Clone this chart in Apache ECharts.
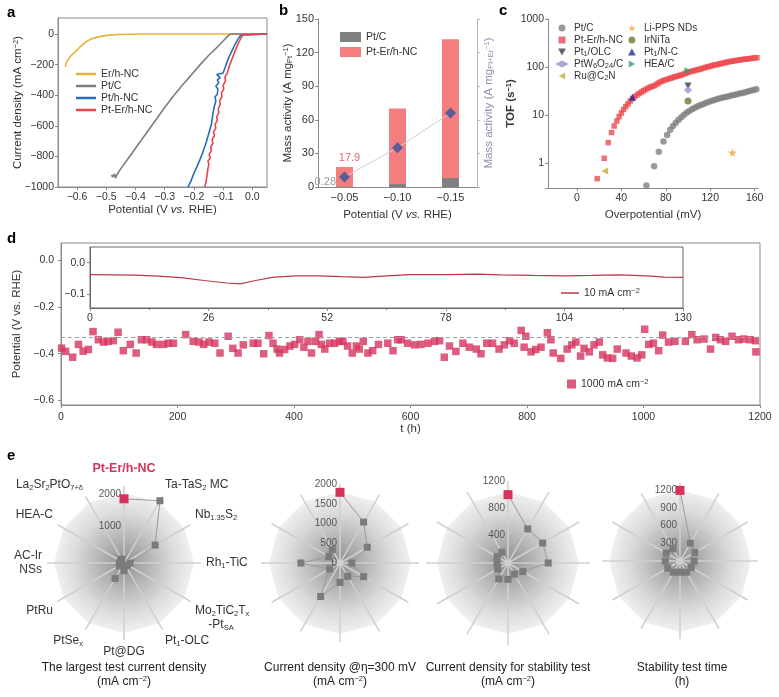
<!DOCTYPE html>
<html><head><meta charset="utf-8">
<script src="https://cdn.jsdelivr.net/npm/echarts@6/dist/echarts.min.js"></script>
<style>html,body{margin:0;padding:0;background:#fff}#c{width:779px;height:697px}</style>
</head><body><div id="c"></div><script>
// ================= DATA =================
// panel a : LSV curves [potential V, current density mA cm-2]
const aTicksX = [-0.6,-0.5,-0.4,-0.3,-0.2,-0.1,0];
const aTicksY = [0,-200,-400,-600,-800,-1000];
const aErCurve = [[-0.64,-215],[-0.637,-190],[-0.633,-200],[-0.63,-165],[-0.625,-175],[-0.62,-140],[-0.615,-150],[-0.61,-125],[-0.6,-105],[-0.59,-85],[-0.58,-68],[-0.57,-52],[-0.56,-40],[-0.55,-31],[-0.53,-20],[-0.51,-12],[-0.49,-7],[-0.46,-3],[-0.42,-1],[-0.38,0],[-0.2,0],[0.05,0]];
const aPtCCurve = [[-0.482,-921],[-0.478,-935],[-0.472,-915],[-0.468,-943],[-0.465,-925],[-0.45,-880],[-0.42,-800],[-0.39,-720],[-0.36,-640],[-0.33,-560],[-0.30,-480],[-0.27,-405],[-0.24,-335],[-0.21,-270],[-0.18,-203],[-0.15,-140],[-0.12,-85],[-0.10,-45],[-0.085,-15],[-0.076,0],[0.05,0]];
const aPtHCurve = [[-0.22,-1000],[-0.21,-960],[-0.20,-910],[-0.19,-868],[-0.18,-824],[-0.17,-775],[-0.16,-720],[-0.15,-655],[-0.14,-590],[-0.135,-520],[-0.13,-470],[-0.125,-440],[-0.128,-410],[-0.12,-395],[-0.118,-360],[-0.125,-340],[-0.115,-320],[-0.12,-300],[-0.11,-285],[-0.122,-265],[-0.1,-255],[-0.09,-200],[-0.08,-150],[-0.07,-110],[-0.06,-70],[-0.05,-35],[-0.04,-8],[-0.035,0],[0.05,0]];
const aPtErCurve = [[-0.163,-1000],[-0.158,-960],[-0.155,-920],[-0.152,-880],[-0.149,-850],[-0.152,-830],[-0.144,-810],[-0.148,-790],[-0.14,-760],[-0.143,-740],[-0.135,-715],[-0.138,-690],[-0.13,-665],[-0.133,-640],[-0.125,-615],[-0.128,-590],[-0.12,-565],[-0.122,-540],[-0.115,-515],[-0.117,-490],[-0.11,-460],[-0.112,-435],[-0.104,-410],[-0.106,-385],[-0.098,-360],[-0.1,-335],[-0.092,-305],[-0.094,-280],[-0.086,-255],[-0.08,-215],[-0.072,-175],[-0.064,-135],[-0.056,-95],[-0.048,-60],[-0.04,-28],[-0.033,-5],[-0.03,0],[0.05,0]];

// panel b : mass activity
const bCategories = ['−0.05','−0.10','−0.15'];
const bPtC = [0.28, 2.5, 8];
const bPtEr = [17.9, 70, 132];
const bPtErNorm = [9, 35, 66];

// panel c : TOF [overpotential mV, TOF s-1]
const cTicksX = [0,40,80,120,160];
const cPtC = [[62.6,0.34],[69.5,0.85],[73.7,1.7],[77.9,2.8],[81.2,3.8],[84,4.9],[86.5,5.9],[89,6.9],[91.5,7.9],[94,9],[96.5,10.1],[99,11.2],[101.5,12.3],[104,13.3],[106.5,14.3],[109,15.2],[111.5,16.1],[114,17],[116.5,17.9],[119,18.8],[121.5,19.7],[124,20.6],[126.5,21.4],[129,22.2],[131.5,23],[134,23.8],[136.5,24.6],[139,25.4],[141.5,26.2],[144,27],[146.5,27.9],[149,28.8],[151.5,29.8],[154,30.8],[156.5,31.9],[159,33],[161.5,34.3]];
const cPtEr = [[18.3,0.47],[24.6,1.25],[28.2,2.65],[31.2,4.3],[33.6,5.9],[36,7.5],[38,9.2],[40,11],[42,13],[44,15],[46,17],[48,19.5],[50,22],[52,24],[54,26],[56,28],[58,30],[60,32],[62,34],[64,36],[66,38],[68,39.5],[70,41],[72,44],[74,47],[76,50],[78,52],[80,54],[82,56],[84,58],[86,60],[88,62],[90,64],[92,66],[94,68],[96,71],[98,74],[100,77],[102,80],[104,82],[106,84],[108,87],[110,89],[112,92],[114,95],[116,98],[118,101],[120,104],[122,107],[124,110],[126,112],[128,115],[130,118],[132,121],[134,124],[136,127],[138,130],[140,132],[142,135],[144,137],[146,140],[148,142],[150,144],[152,146],[154,148],[156,150],[158,152],[160,154],[162,156]];
const cPt1OLC = [[100,40]];
const cPtW6O24 = [[100,33]];
const cRuC2N = [[25,0.68]];
const cLiPPS = [[140,1.64]];
const cIrNiTa = [[100,19.5]];
const cPt1NC = [[50,23.4]];
const cHEAC = [[100,83]];

// panel d : stability [t h, potential V]
const dTicksY = [0,-0.2,-0.4,-0.6];
const d1000 = [[1,-0.376],[8,-0.39],[20,-0.415],[30,-0.36],[38,-0.389],[47,-0.382],[55,-0.305],[64,-0.34],[73,-0.35],[81,-0.347],[90,-0.344],[98,-0.308],[107,-0.387],[119,-0.36],[129,-0.397],[138,-0.34],[147,-0.34],[156,-0.35],[164,-0.36],[176,-0.36],[184,-0.355],[193,-0.355],[214,-0.318],[227,-0.347],[237,-0.35],[245,-0.36],[254,-0.35],[264,-0.355],[273,-0.397],[287,-0.325],[295,-0.377],[304,-0.397],[313,-0.362],[330,-0.355],[338,-0.355],[348,-0.4],[357,-0.322],[364,-0.355],[371,-0.38],[375,-0.397],[384,-0.382],[393,-0.367],[401,-0.36],[410,-0.34],[417,-0.372],[424,-0.347],[430,-0.397],[437,-0.347],[443,-0.318],[447,-0.36],[453,-0.38],[461,-0.355],[470,-0.355],[478,-0.347],[484,-0.347],[492,-0.367],[500,-0.397],[507,-0.367],[512,-0.38],[519,-0.347],[527,-0.397],[535,-0.387],[545,-0.36],[561,-0.355],[570,-0.387],[578,-0.34],[584,-0.34],[595,-0.355],[607,-0.362],[618,-0.36],[630,-0.355],[641,-0.347],[650,-0.344],[658,-0.415],[667,-0.367],[678,-0.39],[690,-0.355],[701,-0.372],[713,-0.38],[721,-0.4],[731,-0.355],[741,-0.355],[752,-0.38],[761,-0.362],[770,-0.344],[778,-0.355],[790,-0.3],[795,-0.372],[798,-0.325],[807,-0.392],[815,-0.382],[824,-0.372],[835,-0.31],[841,-0.34],[845,-0.397],[858,-0.42],[869,-0.38],[877,-0.362],[884,-0.35],[892,-0.41],[898,-0.377],[907,-0.392],[915,-0.362],[924,-0.35],[930,-0.405],[938,-0.418],[947,-0.42],[955,-0.38],[970,-0.397],[979,-0.41],[989,-0.418],[997,-0.405],[1002,-0.295],[1009,-0.36],[1017,-0.355],[1026,-0.387],[1033,-0.32],[1043,-0.35],[1054,-0.347],[1072,-0.347],[1083,-0.318],[1092,-0.34],[1104,-0.337],[1115,-0.38],[1124,-0.33],[1132,-0.34],[1141,-0.347],[1152,-0.325],[1163,-0.34],[1172,-0.337],[1183,-0.34],[1192,-0.344],[1193,-0.392]];
const dRefLevel = -0.33;
const insetTicksY = [0,-0.1];
const inset10 = [[0,-0.038],[5,-0.039],[10,-0.040],[15,-0.043],[20,-0.048],[25,-0.057],[30,-0.065],[33,-0.068],[36,-0.058],[40,-0.047],[45,-0.042],[50,-0.042],[55,-0.045],[60,-0.047],[65,-0.042],[70,-0.038],[78,-0.038],[85,-0.037],[90,-0.039],[97,-0.041],[104,-0.042],[110,-0.041],[116,-0.039],[122,-0.042],[126,-0.046],[130,-0.047]];

// panel e : radar comparisons (order of indicators, clockwise from top)
const eNames = ['Pt-Er/h-NC','Ta-TaS2 MC','Nb1.35S2','Rh1-TiC','Mo2TiC2Tx-PtSA','Pt1-OLC','Pt@DG','PtSex','PtRu','AC-Ir NSs','HEA-C','La2Sr2PtO7+δ'];
const eLargest     = [2000, 2240, 1120, 190, 125, 100, 240, 556, 170, 140, 125, 140];
const eAt300       = [1790, 1197, 797, 297, 690, 391, 492, 980, 305, 990, 325, 390];
const eStabCurrent = [1000, 577, 585, 588, 250, 188, 240, 270, 174, 162, 184, 182];
const eStabTime    = [1200, 350, 290, 240, 220, 220, 190, 220, 240, 250, 270, 240];
const eTicks1 = [1000,2000];
const eTicks2 = [0,500,1000,1500,2000];
const eTicks3 = [400,800,1200];
const eTicks4 = [300,600,900,1200];

// ================= CHART =================
const FONT = 'Liberation Sans, Arial, Helvetica, sans-serif';
const AX = '#8a8a8a', TXT = '#333';
const RICH = {
  s:{fontSize:7.5, lineHeight:8, verticalAlign:'bottom', fontFamily:FONT},
  p:{fontSize:7.5, lineHeight:8, verticalAlign:'top', fontFamily:FONT},
  i:{fontStyle:'italic', fontFamily:FONT},
  hl:{color:'#d6335c', fontWeight:'bold', fontSize:12.5, padding:[0,0,10,0], fontFamily:FONT}
};
const minus = s => String(s).replace('-', '−');
const fmt = d => v => minus(v.toFixed(d));
const plain = v => minus(String(v));

// marker shapes (paths)
const SQ = 'path://M0,0 L10,0 L10,10 L0,10 Z';
const TRI_DOWN = 'path://M0,0 L10,0 L5,9 Z';
const TRI_UP = 'path://M5,0 L10,9 L0,9 Z';
const TRI_LEFT = 'path://M9,0 L9,10 L0,5 Z';
const TRI_RIGHT = 'path://M0,0 L0,10 L9,5 Z';
const STAR = 'path://M50,0 L61,35 L98,35 L68,57 L79,91 L50,70 L21,91 L32,57 L2,35 L39,35 Z';

function vAxis(o){
  return Object.assign({
    type:'value', nameLocation:'middle', nameMoveOverlap:false,
    axisLine:{show:true, onZero:false, lineStyle:{color:AX, width:1}},
    axisTick:{show:true, length:3, lineStyle:{color:AX}},
    axisLabel:{color:TXT, fontSize:10.5, margin:4, fontFamily:FONT, formatter:plain},
    splitLine:{show:false},
    nameTextStyle:{fontSize:11.5, color:TXT, fontFamily:FONT, rich:RICH}
  }, o);
}
function deepAxis(base, extra){
  const a = vAxis(base);
  for (const k in extra){ a[k] = Object.assign({}, a[k]||{}, extra[k]); }
  return a;
}

const grids = [
  {left:58, top:18, width:209, height:169, show:true, borderColor:AX, borderWidth:1, backgroundColor:'transparent'}, // a
  {left:318, top:19, width:159, height:168}, // b
  {left:548, top:19, width:210, height:169}, // c
  {left:61, top:243, width:699, height:162, show:true, borderColor:AX, borderWidth:1, backgroundColor:'transparent'}, // d
  {left:90, top:247, width:593, height:61, show:true, borderColor:'#666', borderWidth:1, backgroundColor:'#fff', z:5} // inset
].map(g => Object.assign({outerBoundsMode:'none', containLabel:false}, g));

const xAxes = [
  deepAxis({gridIndex:0, min:-0.665, max:0.05, name:'Potential (V {i|vs.} RHE)', nameGap:17},
    {axisLabel:{customValues:aTicksX, formatter:fmt(1), margin:5}, axisTick:{customValues:aTicksX}}),
  {type:'category', gridIndex:1, data:bCategories, name:'Potential (V {i|vs.} RHE)', nameLocation:'middle', nameGap:22, nameMoveOverlap:false,
    axisLine:{lineStyle:{color:AX}}, axisTick:{show:false},
    axisLabel:{color:TXT, fontSize:11, margin:5, fontFamily:FONT},
    nameTextStyle:{fontSize:11.5, color:TXT, fontFamily:FONT, rich:RICH}},
  deepAxis({gridIndex:2, min:-26, max:163, name:'Overpotential (mV)', nameGap:21},
    {axisLabel:{customValues:cTicksX, margin:5}, axisTick:{customValues:cTicksX}}),
  deepAxis({gridIndex:3, min:0, max:1200, interval:200, name:'t (h)', nameGap:18},
    {axisLabel:{margin:7}}),
  deepAxis({gridIndex:4, min:0, max:130, interval:26, z:6},
    {axisLabel:{margin:5}, axisLine:{lineStyle:{color:'#666'}}, minorTick:{show:true, splitNumber:2, length:2, lineStyle:{color:'#666'}}})
];
const yAxes = [
  deepAxis({gridIndex:0, min:-1000, max:105, name:'Current density (mA cm{p|−2})', nameGap:34},
    {axisLabel:{customValues:aTicksY}, axisTick:{customValues:aTicksY}}),
  deepAxis({gridIndex:1, min:0, max:150, interval:30, name:'Mass activity (A mg{s|Pt}{p|−1})', nameGap:24},
    {axisLabel:{fontSize:11}}),
  deepAxis({gridIndex:1, min:0, max:150, interval:30, position:'right', name:'Mass activity (A mg{s|Pt+Er}{p|−1})', nameGap:6},
    {axisLabel:{show:false}, axisLine:{lineStyle:{color:'#b5b5c8'}}, axisTick:{lineStyle:{color:'#b5b5c8'}}, nameTextStyle:{color:'#9090b0'}}),
  deepAxis({gridIndex:2, type:'log', logBase:10, min:0.3, max:1000, name:'TOF (s{p|−1})', nameGap:31},
    {axisLabel:{formatter:v=>{const l=Math.log10(v); return Math.abs(l-Math.round(l))<0.01 ? String(Math.round(v)) : '';}},
     nameTextStyle:{fontWeight:'bold'}}),
  deepAxis({gridIndex:3, min:-0.62, max:0.075, name:'Potential (V vs. RHE)', nameGap:38},
    {axisLabel:{customValues:dTicksY, formatter:fmt(1), margin:7}, axisTick:{customValues:dTicksY}}),
  deepAxis({gridIndex:4, min:-0.145, max:0.05, z:6},
    {axisLabel:{customValues:insetTicksY, formatter:fmt(1), margin:5}, axisTick:{customValues:insetTicksY}, axisLine:{lineStyle:{color:'#666'}}})
];

// radar / polar for panel e
const eCfg = [
  {c:[124,563], R:77, bg:70, max:2400, ticks:eTicks1, vals:eLargest, names:true, la:'bottom'},
  {c:[340,563], R:79, bg:71, max:2000, ticks:eTicks2, vals:eAt300, names:false, la:'middle'},
  {c:[508,563], R:82, bg:71, max:1200, ticks:eTicks3, vals:eStabCurrent, names:false, la:'middle'},
  {c:[680,561], R:78, bg:71, max:1325, ticks:eTicks4, vals:eStabTime, names:false, la:'middle'}
];
const nameRich = [
  '{hl|Pt-Er/h-NC}', 'Ta-TaS{s|2} MC', 'Nb{s|1.35}S{s|2}', 'Rh{s|1}-TiC', 'Mo{s|2}TiC{s|2}T{s|x}\n    -Pt{s|SA}',
  'Pt{s|1}-OLC', 'Pt@DG', 'PtSe{s|x}', 'PtRu', 'AC-Ir\nNSs', 'HEA-C', 'La{s|2}Sr{s|2}PtO{s|7+δ}'
];
const bgGrad = new echarts.graphic.RadialGradient(0.5, 0.5, 0.5, [
  {offset:0, color:'#8e8e8e'}, {offset:0.35, color:'#b4b4b4'}, {offset:0.7, color:'#dadada'}, {offset:1, color:'#f1f1f1'}
]);
const radar = eCfg.map(e => ({
  center:e.c, radius:e.bg, shape:'polygon', splitNumber:1, z:0,
  indicator: eNames.map(n => ({name:'', max:1})),
  axisName:{show:false}, axisLine:{show:false}, splitLine:{show:false},
  splitArea:{show:true, areaStyle:{color:[bgGrad]}}
}));
const polar = eCfg.map(e => ({center:e.c, radius:[0, e.R]}));
const angleAxis = eCfg.map((e,i) => ({
  polarIndex:i, type:'category', data:eNames, startAngle:90, clockwise:true, boundaryGap:false, z:3,
  axisLine:{show:false}, axisTick:{show:false},
  splitLine:{show:true, lineStyle:{color:'#cfcfcf', width:1.5}},
  axisLabel:{show:e.names, margin:5, color:TXT, fontSize:12, fontFamily:FONT, lineHeight:14,
    formatter:(v, idx) => nameRich[idx], rich:RICH}
}));
const radiusAxis = eCfg.map((e,i) => ({
  polarIndex:i, type:'value', min:0, max:e.max, z:4,
  axisLine:{show:false}, axisTick:{show:false}, splitLine:{show:false},
  axisLabel:{show:true, customValues:e.ticks, formatter:v=>String(v), color:'#555', fontSize:10, margin:3, fontFamily:FONT, verticalAlign:e.la}
}));

const series = [
  // panel a
  {name:'a:Er/h-NC', type:'line', xAxisIndex:0, yAxisIndex:0, data:aErCurve, symbol:'none', lineStyle:{color:'#e6b43a', width:1.6}, itemStyle:{color:'#e6b43a'}},
  {name:'a:Pt/C', type:'line', xAxisIndex:0, yAxisIndex:0, data:aPtCCurve, symbol:'none', lineStyle:{color:'#7d7d7d', width:1.6}, itemStyle:{color:'#7d7d7d'}},
  {name:'a:Pt/h-NC', type:'line', xAxisIndex:0, yAxisIndex:0, data:aPtHCurve, symbol:'none', lineStyle:{color:'#2b6cb5', width:1.6}, itemStyle:{color:'#2b6cb5'}},
  {name:'a:Pt-Er/h-NC', type:'line', xAxisIndex:0, yAxisIndex:0, data:aPtErCurve, symbol:'none', lineStyle:{color:'#e8454a', width:1.6}, itemStyle:{color:'#e8454a'}},
  // panel b
  {name:'b:Pt-Er/h-NC', type:'bar', xAxisIndex:1, yAxisIndex:1, barWidth:17, barGap:'-100%', itemStyle:{color:'#f47d7d'},
    data:bPtEr.map((v,i)=> i===0 ? {value:v, label:{show:true, position:'top', color:'#e06a6a', fontSize:11, distance:3, offset:[5,0], fontFamily:FONT}} : v)},
  {name:'b:Pt/C', type:'bar', xAxisIndex:1, yAxisIndex:1, barWidth:17, barGap:'-100%', itemStyle:{color:'#808080'},
    data:bPtC.map((v,i)=> i===0 ? {value:v, label:{show:true, position:'left', color:'#9a9a9a', fontSize:11, distance:2, offset:[2,-5], fontFamily:FONT}} : v)},
  {name:'b:norm', type:'line', xAxisIndex:1, yAxisIndex:2, data:bPtErNorm, symbol:'diamond', symbolSize:11,
    itemStyle:{color:'#5b5b9c'}, lineStyle:{color:'#d0d0d0', width:1}, z:5},
  // panel c
  {name:'c:Pt/C', type:'scatter', xAxisIndex:2, yAxisIndex:3, data:cPtC, symbol:'circle', symbolSize:6.5, itemStyle:{color:'#808080'}},
  {name:'c:Pt-Er/h-NC', type:'scatter', xAxisIndex:2, yAxisIndex:3, data:cPtEr, symbol:SQ, symbolSize:5.5, itemStyle:{color:'#ee4a50'}},
  {name:'c:Pt1/OLC', type:'scatter', xAxisIndex:2, yAxisIndex:3, data:cPt1OLC, symbol:TRI_DOWN, symbolSize:7, itemStyle:{color:'#3c3c4c'}, z:4},
  {name:'c:PtW6O24/C', type:'scatter', xAxisIndex:2, yAxisIndex:3, data:cPtW6O24, symbol:'diamond', symbolSize:8, itemStyle:{color:'#a58ad0'}, z:4},
  {name:'c:Ru@C2N', type:'scatter', xAxisIndex:2, yAxisIndex:3, data:cRuC2N, symbol:TRI_LEFT, symbolSize:7, itemStyle:{color:'#c9ab3c'}, z:4},
  {name:'c:Li-PPS NDs', type:'scatter', xAxisIndex:2, yAxisIndex:3, data:cLiPPS, symbol:STAR, symbolSize:9, itemStyle:{color:'#f2a23c'}, z:4},
  {name:'c:IrNiTa', type:'scatter', xAxisIndex:2, yAxisIndex:3, data:cIrNiTa, symbol:'circle', symbolSize:7, itemStyle:{color:'#6f7d2c'}, z:4},
  {name:'c:Pt1/N-C', type:'scatter', xAxisIndex:2, yAxisIndex:3, data:cPt1NC, symbol:TRI_UP, symbolSize:7, itemStyle:{color:'#1d2c9e'}, z:4},
  {name:'c:HEA/C', type:'scatter', xAxisIndex:2, yAxisIndex:3, data:cHEAC, symbol:TRI_RIGHT, symbolSize:7, itemStyle:{color:'#3a9e6a'}, z:4},
  // panel d
  {name:'d:1000', type:'scatter', xAxisIndex:3, yAxisIndex:4, data:d1000, symbol:'rect', symbolSize:7.5, itemStyle:{color:'#d6335c'},
    markLine:{silent:true, symbol:'none', label:{show:false}, lineStyle:{color:'#a0a0a0', type:[4,3], width:1}, data:[{yAxis:dRefLevel}]}},
  {name:'d:10', type:'line', xAxisIndex:4, yAxisIndex:5, data:inset10, symbol:'none', z:7, lineStyle:{color:'#b83a48', width:1.2}, itemStyle:{color:'#b83a48'}}
];
// panel e series
eCfg.forEach((e,i) => {
  const data = e.vals.map((v,k) => k===0 ? {value:[v,k], symbolSize:9, itemStyle:{color:'#d6335c'}, z:10} : [v,k]);
  data.push({value:[e.vals[0],0], symbol:'none'});
  series.push({name:'e'+i, type:'line', coordinateSystem:'polar', polarIndex:i, data, symbol:'rect', symbolSize:7,
    itemStyle:{color:'#7b7b7b'}, lineStyle:{color:'#9a9a9a', width:1}, z:6});
});

const richNames = {
  'a:Er/h-NC':'Er/h-NC','a:Pt/C':'Pt/C','a:Pt/h-NC':'Pt/h-NC','a:Pt-Er/h-NC':'Pt-Er/h-NC',
  'b:Pt/C':'Pt/C','b:Pt-Er/h-NC':'Pt-Er/h-NC',
  'c:Pt/C':'Pt/C','c:Pt-Er/h-NC':'Pt-Er/h-NC','c:Pt1/OLC':'Pt{s|1}/OLC','c:PtW6O24/C':'PtW{s|6}O{s|24}/C','c:Ru@C2N':'Ru@C{s|2}N',
  'c:Li-PPS NDs':'Li-PPS NDs','c:IrNiTa':'IrNiTa','c:Pt1/N-C':'Pt{s|1}/N-C','c:HEA/C':'HEA/C',
  'd:1000':'1000 mA cm{p|−2}','d:10':'10 mA cm{p|−2}'
};
const legTS = fs => ({fontSize:fs, color:TXT, fontFamily:FONT, lineHeight:12, rich:RICH});
const legBase = {orient:'vertical', padding:0, selectedMode:false, formatter:n=>richNames[n]||n};
const cIcon = n => ({name:n, icon:({'c:Pt/C':'circle','c:Pt-Er/h-NC':SQ,'c:Pt1/OLC':TRI_DOWN,'c:PtW6O24/C':'diamond','c:Ru@C2N':TRI_LEFT,
  'c:Li-PPS NDs':STAR,'c:IrNiTa':'circle','c:Pt1/N-C':TRI_UP,'c:HEA/C':TRI_RIGHT})[n]});
const legend = [
  Object.assign({}, legBase, {left:76, top:68, itemGap:0, itemWidth:20, itemHeight:2.5, icon:'rect', textStyle:legTS(10.5),
    data:['a:Er/h-NC','a:Pt/C','a:Pt/h-NC','a:Pt-Er/h-NC']}),
  Object.assign({}, legBase, {left:340, top:31, itemGap:3, itemWidth:21, itemHeight:10, icon:'rect', textStyle:legTS(10.5),
    data:['b:Pt/C','b:Pt-Er/h-NC']}),
  Object.assign({}, legBase, {left:555, top:22, itemGap:0, itemWidth:14, itemHeight:7, textStyle:legTS(10),
    data:['c:Pt/C','c:Pt-Er/h-NC','c:Pt1/OLC','c:PtW6O24/C','c:Ru@C2N'].map(cIcon)}),
  Object.assign({}, legBase, {left:628, top:22, itemGap:0, itemWidth:14, itemHeight:7, textStyle:legTS(10),
    data:['c:Li-PPS NDs','c:IrNiTa','c:Pt1/N-C','c:HEA/C'].map(cIcon)}),
  Object.assign({}, legBase, {left:567, top:378, itemWidth:9, itemHeight:9, icon:'rect', textStyle:legTS(10.5), data:['d:1000']}),
  Object.assign({}, legBase, {left:561, top:287, itemWidth:18, itemHeight:1.5, icon:'rect', textStyle:legTS(10.5), data:['d:10'], z:8})
];

const txt = (text, x, y, extra) => ({type:'text', x, y, z:20, style:Object.assign({text, fill:'#222', fontFamily:FONT, fontSize:12, align:'center', verticalAlign:'top', lineHeight:14, rich:RICH}, extra||{})});
const graphic = [
  txt('a', 7, 6, {fontSize:15, fontWeight:'bold', align:'left', fill:'#000'}),
  txt('b', 279, 4, {fontSize:15, fontWeight:'bold', align:'left', fill:'#000'}),
  txt('c', 499, 4, {fontSize:15, fontWeight:'bold', align:'left', fill:'#000'}),
  txt('d', 7, 232, {fontSize:15, fontWeight:'bold', align:'left', fill:'#000'}),
  txt('e', 7, 449, {fontSize:15, fontWeight:'bold', align:'left', fill:'#000'}),
  txt('The largest test current density\n(mA cm{p|−2})', 124, 661),
  txt('Current density @η=300 mV\n(mA cm{p|−2})', 340, 661),
  txt('Current density for stability test\n(mA cm{p|−2})', 508, 661),
  txt('Stability test time\n(h)', 682, 661)
];

const chart = echarts.init(document.getElementById('c'), null, {renderer:'canvas'});
chart.setOption({
  animation:false, backgroundColor:'#fff',
  textStyle:{fontFamily:FONT},
  grid:grids, xAxis:xAxes, yAxis:yAxes,
  radar, polar, angleAxis, radiusAxis,
  legend, series, graphic
});
</script></body></html>
